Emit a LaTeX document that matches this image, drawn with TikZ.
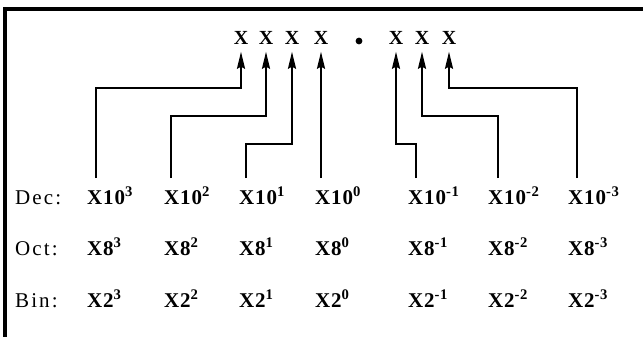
\documentclass[tikz,border=0pt]{standalone}
\usepackage{fontspec}
\setmainfont{Liberation Serif}
\usetikzlibrary{arrows.meta}
\newcommand{\topfont}{\fontsize{20}{20}\selectfont\bfseries}
\tikzset{
  topx/.style={inner sep=0pt, anchor=center},
  lbl/.style={inner sep=0pt, anchor=base west, font=\fontsize{21}{21}\selectfont\addfontfeature{LetterSpace=10}},
  term/.style={inner sep=0pt, anchor=base west, font=\fontsize{21}{21}\selectfont\bfseries\addfontfeature{LetterSpace=4}},
  conn/.style={line width=1.9pt, -{Stealth[length=17pt,width=8pt,inset=2pt]}, shorten >=7pt},
  frame/.style={line width=3.2pt}
}
\begin{document}
\begin{tikzpicture}[x=1pt,y=-1pt]
\useasboundingbox (0,0) rectangle (643,337);
% frame
\draw[frame] (5,337) -- (5,9) -- (643,9);
% top digits
\node[topx] (t1) at (241,38) {\topfont X};
\node[topx] (t2) at (266,38) {\topfont X};
\node[topx] (t3) at (292,38) {\topfont X};
\node[topx] (t4) at (321,38) {\topfont X};
\fill (359,41) circle[radius=3.4pt];
\node[topx] (t5) at (396,38) {\topfont X};
\node[topx] (t6) at (422,38) {\topfont X};
\node[topx] (t7) at (449,38) {\topfont X};
% row labels
\node[lbl] (ldec) at (15,204) {Dec:};
\node[lbl] (loct) at (15,255) {Oct:};
\node[lbl] (lbin) at (15,307) {Bin:};
% Dec row
\node[term] (d1) at (87,204) {X10\textsuperscript{3}};
\node[term] (d2) at (164,204) {X10\textsuperscript{2}};
\node[term] (d3) at (239,204) {X10\textsuperscript{1}};
\node[term] (d4) at (315,204) {X10\textsuperscript{0}};
\node[term] (d5) at (408,204) {X10\textsuperscript{-1}};
\node[term] (d6) at (488,204) {X10\textsuperscript{-2}};
\node[term] (d7) at (568,204) {X10\textsuperscript{-3}};
% Oct row
\node[term] (o1) at (87,255) {X8\textsuperscript{3}};
\node[term] (o2) at (164,255) {X8\textsuperscript{2}};
\node[term] (o3) at (239,255) {X8\textsuperscript{1}};
\node[term] (o4) at (315,255) {X8\textsuperscript{0}};
\node[term] (o5) at (408,255) {X8\textsuperscript{-1}};
\node[term] (o6) at (488,255) {X8\textsuperscript{-2}};
\node[term] (o7) at (568,255) {X8\textsuperscript{-3}};
% Bin row
\node[term] (b1) at (87,307) {X2\textsuperscript{3}};
\node[term] (b2) at (164,307) {X2\textsuperscript{2}};
\node[term] (b3) at (239,307) {X2\textsuperscript{1}};
\node[term] (b4) at (315,307) {X2\textsuperscript{0}};
\node[term] (b5) at (408,307) {X2\textsuperscript{-1}};
\node[term] (b6) at (488,307) {X2\textsuperscript{-2}};
\node[term] (b7) at (568,307) {X2\textsuperscript{-3}};
% stems above Dec terms
\coordinate (s1) at (96,178);
\coordinate (s2) at (171,178);
\coordinate (s3) at (246,178);
\coordinate (s4) at (321,178);
\coordinate (s5) at (416,178);
\coordinate (s6) at (498,178);
\coordinate (s7) at (577,178);
% connectors
\draw[conn] (s1) -- (96,88) -| (t1.south);
\draw[conn] (s2) -- (171,116) -| (t2.south);
\draw[conn] (s3) -- (246,144) -| (t3.south);
\draw[conn] (s4) -- (t4.south);
\draw[conn] (s5) -- (416,144) -| (t5.south);
\draw[conn] (s6) -- (498,116) -| (t6.south);
\draw[conn] (s7) -- (577,88) -| (t7.south);
\end{tikzpicture}
\end{document}
